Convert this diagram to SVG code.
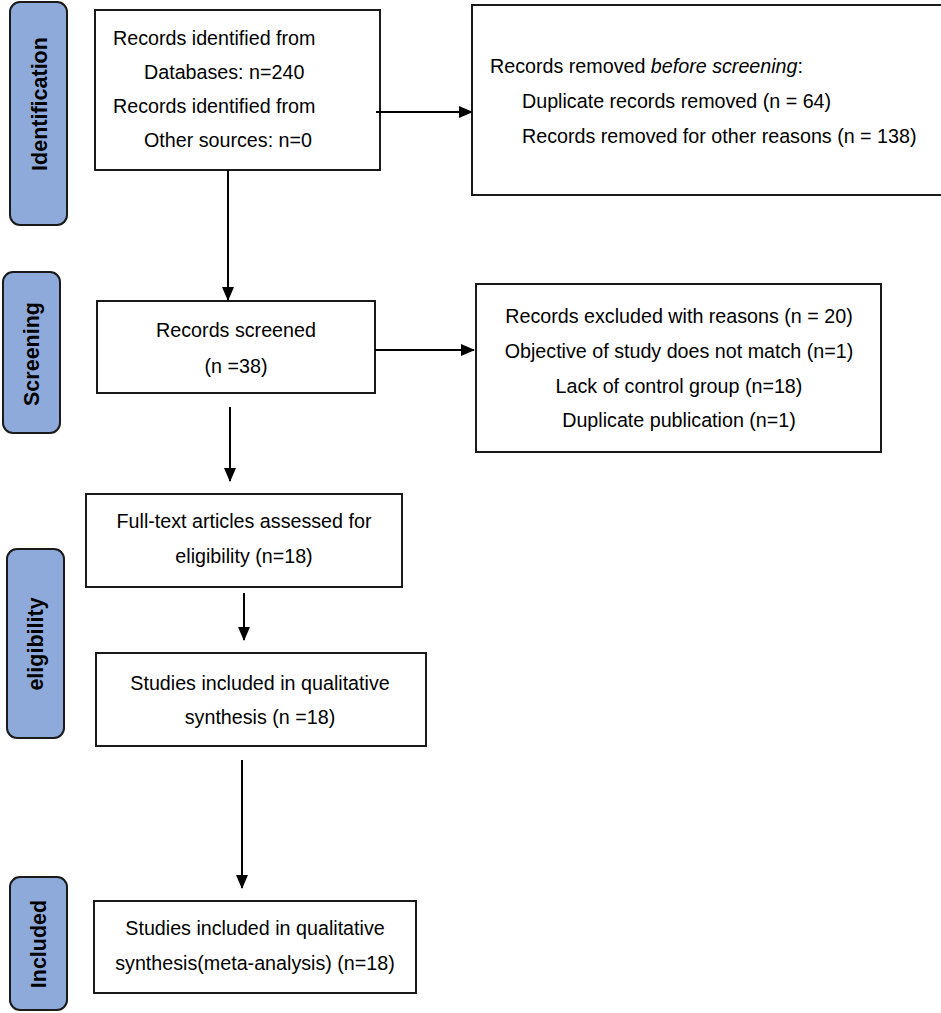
<svg xmlns="http://www.w3.org/2000/svg" width="941" height="1013" viewBox="0 0 941 1013">
<defs>
<marker id="ah" markerWidth="14" markerHeight="12" refX="13" refY="6" orient="auto" markerUnits="userSpaceOnUse" viewBox="0 0 14 12"><path d="M0,0 L14,6 L0,12 z" fill="#000"/></marker>
<style>
.box{fill:#fff;stroke:#1a1a1a;stroke-width:2}
.pill{fill:#8eaadb;stroke:#1a1a1a;stroke-width:2}
.t{font-family:"Liberation Sans",Arial,sans-serif;font-size:19.7px;fill:#000}
.c{text-anchor:middle}
.lab{font-family:"Liberation Sans",Arial,sans-serif;font-size:21.5px;font-weight:bold;fill:#000;text-anchor:middle}
.con{stroke:#000;stroke-width:2;fill:none;marker-end:url(#ah)}
</style>
</defs>
<rect width="941" height="1013" fill="#fff"/>
<g id="stage-identification"><rect class="pill" x="10" y="2" width="57" height="223" rx="10"/><text class="lab" transform="translate(47,104) rotate(-90)">Identification</text></g>
<g id="stage-screening"><rect class="pill" x="3" y="272" width="57" height="161" rx="10"/><text class="lab" transform="translate(39,354) rotate(-90)">Screening</text></g>
<g id="stage-eligibility"><rect class="pill" x="7" y="549" width="57" height="189" rx="10"/><text class="lab" transform="translate(43,644) rotate(-90)">eligibility</text></g>
<g id="stage-included"><rect class="pill" x="10" y="877" width="57" height="133" rx="10"/><text class="lab" transform="translate(46,944) rotate(-90)">Included</text></g>
<g id="identified"><rect class="box" x="95" y="10" width="285" height="160"/>
<text class="t" x="113" y="45">Records identified from</text>
<text class="t" x="144" y="79">Databases: n=240</text>
<text class="t" x="113" y="113">Records identified from</text>
<text class="t" x="144" y="147">Other sources: n=0</text></g>
<g id="removed"><rect class="box" x="472" y="5" width="475" height="190"/>
<text class="t" x="490" y="73">Records removed <tspan font-style="italic">before screening</tspan>:</text>
<text class="t" x="522" y="108">Duplicate records removed (n = 64)</text>
<text class="t" x="522" y="143">Records removed for other reasons (n = 138)</text></g>
<g id="screened"><rect class="box" x="97" y="301" width="278" height="92"/>
<text class="t c" x="236" y="337">Records screened</text>
<text class="t c" x="236" y="373">(n =38)</text></g>
<g id="excluded"><rect class="box" x="476" y="284" width="405" height="168"/>
<text class="t c" x="679" y="323">Records excluded with reasons (n = 20)</text>
<text class="t c" x="679" y="358">Objective of study does not match (n=1)</text>
<text class="t c" x="679" y="393">Lack of control group (n=18)</text>
<text class="t c" x="679" y="427">Duplicate publication (n=1)</text></g>
<g id="fulltext"><rect class="box" x="86" y="494" width="316" height="93"/>
<text class="t c" x="244" y="528">Full-text articles assessed for</text>
<text class="t c" x="244" y="563">eligibility (n=18)</text></g>
<g id="qualitative"><rect class="box" x="96" y="653" width="330" height="93"/>
<text class="t c" x="260" y="690">Studies included in qualitative</text>
<text class="t c" x="260" y="724">synthesis (n =18)</text></g>
<g id="meta"><rect class="box" x="94" y="901" width="322" height="92"/>
<text class="t c" x="255" y="935">Studies included in qualitative</text>
<text class="t c" x="255" y="970">synthesis(meta-analysis) (n=18)</text></g>
<g id="connectors">
<line class="con" x1="376" y1="112" x2="472" y2="112"/>
<line class="con" x1="228" y1="170" x2="228" y2="300"/>
<line class="con" x1="375" y1="350" x2="474" y2="350"/>
<line class="con" x1="230" y1="407" x2="230" y2="481"/>
<line class="con" x1="244" y1="593" x2="244" y2="640"/>
<line class="con" x1="242" y1="760" x2="242" y2="888"/>
</g>
</svg>
